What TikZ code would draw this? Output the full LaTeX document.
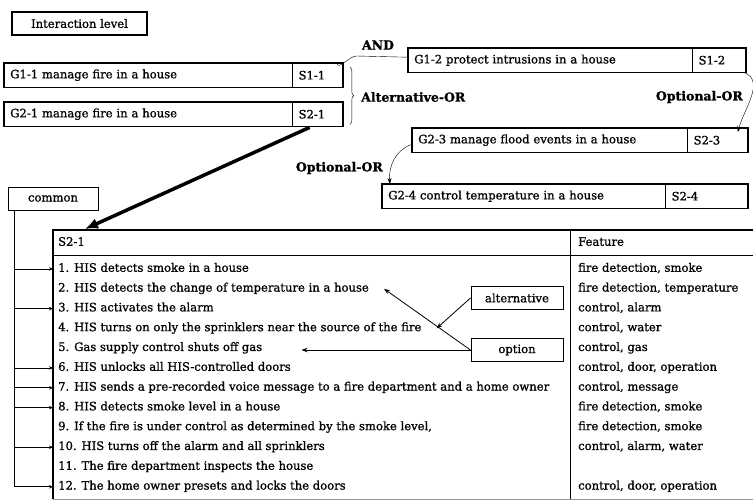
\documentclass[tikz,border=0pt]{standalone}
\usepackage{fontspec}
\setmainfont{DejaVu Serif}[FakeBold=1]
\usetikzlibrary{
	arrows.meta,
	positioning,
	calc,
	decorations.pathreplacing,
}

\begin{document}
\begin{tikzpicture}[x=1pt,y=-1pt,
				every node/.style={font=\fontsize{11.6}{13}\selectfont,inner sep=3pt},
				framebox/.style={draw,line width=1.6pt},
				goal/.style={draw,thin,minimum height=24pt,inner xsep=6pt,text width=#1,align=left,anchor=north west},
				spart/.style={draw,thin,minimum height=24pt,inner xsep=6pt,text width=#1,align=left},
				tagbox/.style={draw,line width=1pt,minimum width=92pt,minimum height=23pt},
				oplabel/.style={font=\fontsize{12.5}{14}\selectfont\bfseries},
				rowtext/.style={anchor=west,text height=8pt,text depth=2.5pt},
				branch/.style={-{Stealth[length=4pt,width=3.5pt]},thick},
				tagarrow/.style={-{Stealth[length=6pt,width=4.5pt]},thick},
			]
			\useasboundingbox (0,0) rectangle (753,501);

			\node (level) [framebox,minimum width=135pt,minimum height=23pt] at (79.5,23.5) {Interaction level};

			% goals and scenarios
			\node (g11) [goal=276pt] at (4,63) {G1-1 manage fire in a house};
			\node (s11) [spart=38pt,right=0pt of g11] {S1-1};
			\node (g21) [goal=276pt] at (4,102) {G2-1 manage fire in a house};
			\node (s21) [spart=38pt,right=0pt of g21] {S2-1};
			\node (g12) [goal=272pt] at (408,48) {G1-2 protect intrusions in a house};
			\node (s12) [spart=41pt,right=0pt of g12] {S1-2};
			\node (g23) [goal=263pt] at (412,128) {G2-3 manage flood events in a house};
			\node (s23) [spart=48pt,right=0pt of g23] {S2-3};
			\node (g24) [goal=271pt] at (382,184) {G2-4 control temperature in a house};
			\node (s24) [spart=70pt,right=0pt of g24] {S2-4};
			\draw[framebox] (g11.north west) rectangle (s11.south east);
			\draw[framebox] (g21.north west) rectangle (s21.south east);
			\draw[framebox] (g12.north west) rectangle (s12.south east);
			\draw[framebox] (g23.north west) rectangle (s23.south east);
			\draw[framebox] (g24.north west) rectangle (s24.south east);

			% relations
			\node (and) [oplabel] at (378,45) {AND};
			\draw[thin] ($(s11.north east)+(-6,0)$) to[out=-80,in=180] ($(s11.north east)+(14,-7)$) -- ($(g12.west)+(0,-3)$);
			\draw[decorate,decoration={brace,amplitude=4pt}] ($(s11.north east)+(7,4)$) -- ($(s21.south east)+(7,-2)$);
			\node (altor) [oplabel,anchor=west] at (358,97) {Alternative-OR};
			\node (optor1) [oplabel,anchor=east] at (746,97) {Optional-OR};
			\draw[-{Stealth[length=6pt,width=4pt]}] ($(s12.south east)+(-2,0)$) to[out=-20,in=75] ($(s23.north east)+(-10,4)$);
			\node (optor2) [oplabel,anchor=east] at (386,168) {Optional-OR};
			\draw[-{Stealth[length=6pt,width=4pt]}] ($(g23.west)+(0,4)$) to[out=200,in=95] ($(g24.north west)+(8,0)$);

			% scenario table
			\node (common) [draw,thin,minimum width=90pt,minimum height=23pt] at (53,198.5) {common};
			\node (tbl) [anchor=north west,minimum width=700pt,minimum height=269pt,inner sep=0pt] at (53,230) {};
			\draw[line width=1.4pt] (tbl.north east) -- (tbl.north west) -- (tbl.south west);
			\draw[black!40] (tbl.south west) -- (tbl.south east);
			\draw[thin] ($(tbl.north west)+(0,25)$) -- ($(tbl.north east)+(0,25)$);
			\draw[thin] (570,230) -- (570,499);
			\node (hdr) [rowtext] at (55,243) {S2-1};
			\node (feat) [rowtext] at (575,243) {Feature};
			\foreach \i/\step/\feature in {
				1/{1. HIS detects smoke in a house}/{fire detection, smoke},
				2/{2. HIS detects the change of temperature in a house}/{fire detection, temperature},
				3/{3. HIS activates the alarm}/{control, alarm},
				4/{4. HIS turns on only the sprinklers near the source of the fire}/{control, water},
				5/{5. Gas supply control shuts off gas}/{control, gas},
				6/{6. HIS unlocks all HIS-controlled doors}/{control, door, operation},
				7/{7. HIS sends a pre-recorded voice message to a fire department and a home owner}/{control, message},
				8/{8. HIS detects smoke level in a house}/{fire detection, smoke},
				9/{9. If the fire is under control as determined by the smoke level,}/{fire detection, smoke},
				10/{10. HIS turns off the alarm and all sprinklers}/{control, alarm, water},
				11/{11. The fire department inspects the house}/{},
				12/{12. The home owner presets and locks the doors}/{control, door, operation}%
			}{
				\node (r\i) [rowtext] at ({55},{269+(\i-1)*19.8}) {\step};
				\node (f\i) [rowtext] at ({575},{269+(\i-1)*19.8}) {\feature};
			}

			\draw[-{Latex[length=13pt,width=11pt]},line width=3.5pt] ($(s21.south)+(-8,1)$) -- ($(tbl.north west)+(32,-1)$);

			% common steps
			\coordinate (trunk) at ($(common.south west)+(7,0)$);
			\draw[thick] (trunk) -- (trunk |- r12.west);
			\foreach \i in {1,3,6,7,8,10,12}
				\draw[branch] (trunk |- r\i.west) -- (tbl.west |- r\i.west);

			% variation points
			\node (alt) [tagbox] at (517,298) {alternative};
			\node (opt) [tagbox] at (517,350) {option};
			\draw[tagarrow] (alt.west) -- ($(r4.east)+(12,0)$);
			\draw[tagarrow] (opt.west) -- ($(r2.east)+(12,0)$);
			\draw[tagarrow] (opt.west) -- ++(-169,0);
		\end{tikzpicture}
\end{document}
